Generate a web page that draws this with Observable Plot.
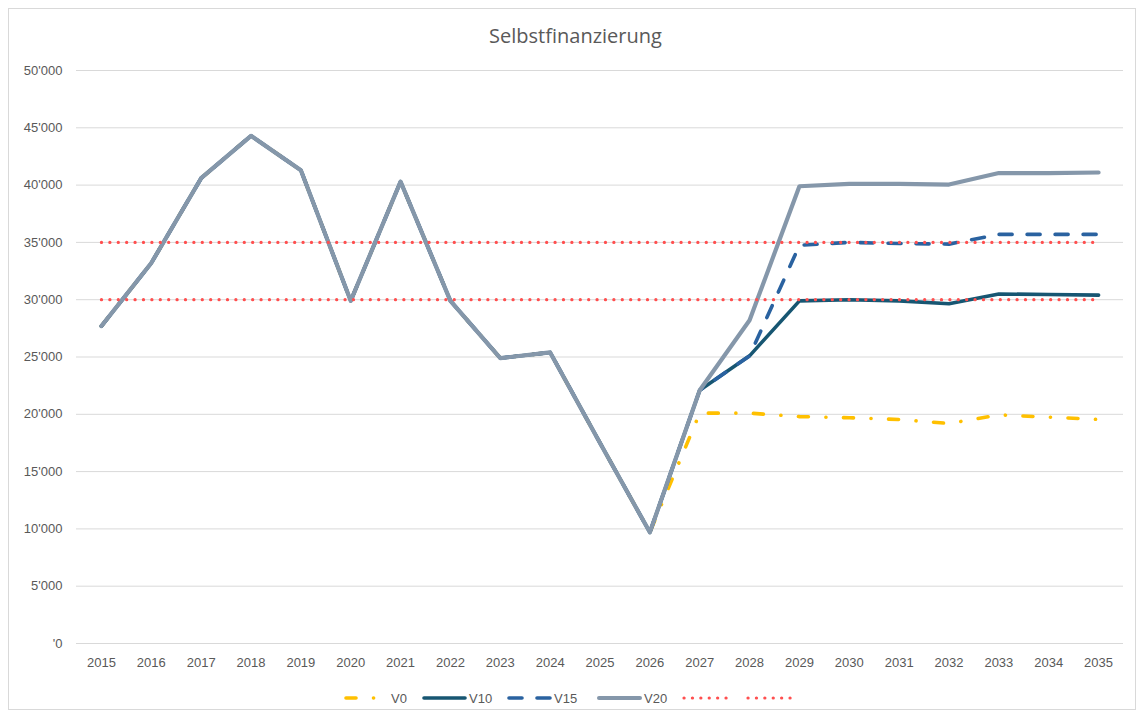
<!DOCTYPE html>
<html>
<head>
<meta charset="utf-8">
<script src="https://cdn.jsdelivr.net/npm/d3@7"></script>
<script src="https://cdn.jsdelivr.net/npm/@observablehq/plot@0.6"></script>
<style>
  body { margin: 0; background: #fff; font-family: "Liberation Sans", Arial, sans-serif; }
  #wrap { position: relative; width: 1141px; height: 718px; overflow: hidden; }
  #frame { position: absolute; left: 8px; top: 8px; width: 1128px; height: 702px; border: 1px solid #D9D9D9; box-sizing: border-box; }
  #title { position: absolute; left: 0; top: 22px; width: 1151px; text-align: center; font-family: "Open Sans", "Noto Sans", sans-serif; font-size: 20px; color: #595959; }
  #chart { position: absolute; left: 0; top: 50px; }
  #legend { position: absolute; top: 688px; left: 0; width: 1141px; height: 20px; }
  .item { position: absolute; top: 0; height: 20px; display: flex; align-items: center; font-size: 13px; color: #595959; }
  .item svg { display: block; }
</style>
</head>
<body>
<div id="wrap">
  <div id="frame"></div>
  <div id="title">Selbstfinanzierung</div>
  <div id="chart"></div>
  <div id="legend"></div>
</div>
<script>
const years = [2015,2016,2017,2018,2019,2020,2021,2022,2023,2024,2025,2026,2027,2028,2029,2030,2031,2032,2033,2034,2035];
const history = [27700,33200,40600,44300,41300,29900,40300,29900,24900,25400,17500,9700];
const V0  = [...history, 20100,20100,19800,19700,19550,19200,19950,19750,19550];
const V10 = [...history, 22100,25100,29900,30000,29900,29650,30500,30450,30400];
const V15 = [...history, 22100,25100,34750,35000,34900,34850,35700,35700,35700];
const V20 = [...history, 22100,28200,39900,40100,40100,40050,41050,41050,41100];
const refLow  = years.map(() => 30000);
const refHigh = years.map(() => 35000);
const yTicks = [0,5000,10000,15000,20000,25000,30000,35000,40000,45000,50000];

const colors = {V0:"#FFC000", V10:"#175672", V15:"#2A62A0", V20:"#8597AA", ref:"#FF4F4F"};

function rows(arr, name) { return years.map((y, i) => ({year: y, value: arr[i], series: name})); }

const fmt = d => d === 0 ? "'0" : d3.format(",")(d).replace(/,/g, "'");

const plot = Plot.plot({
  width: 1141,
  height: 630,
  marginLeft: 76,
  marginRight: 18,
  marginTop: 20,
  marginBottom: 37,
  style: { fontFamily: "'Liberation Sans', Arial, sans-serif", fontSize: "13px", color: "#595959", background: "transparent" },
  x: { type: "point", domain: years, padding: 0.5, round: false, label: null },
  y: { domain: [0, 50000], label: null },
  marks: [
    Plot.gridY(yTicks, { stroke: "#D9D9D9", strokeOpacity: 1, strokeWidth: 1 }),
    Plot.axisX({ tickSize: 0, tickPadding: 14, fill: "#595959", tickFormat: d => String(d) }),
    Plot.axisY(yTicks, { tickSize: 0, tickPadding: 14, tickFormat: fmt, fill: "#595959" }),
    Plot.line(rows(V0, "V0"), { x: "year", y: "value", stroke: colors.V0, strokeWidth: 3.6, strokeDasharray: "10,17.5,0.1,17.5", strokeLinecap: "round", strokeLinejoin: "round" }),
    Plot.line(rows(V10, "V10"), { x: "year", y: "value", stroke: colors.V10, strokeWidth: 3.6, strokeLinecap: "round", strokeLinejoin: "round" }),
    Plot.line(rows(V15, "V15"), { x: "year", y: "value", stroke: colors.V15, strokeWidth: 3.6, strokeDasharray: "13,15", strokeLinecap: "round", strokeLinejoin: "round" }),
    Plot.line(rows(V20, "V20"), { x: "year", y: "value", stroke: colors.V20, strokeWidth: 4.2, strokeLinecap: "round", strokeLinejoin: "round" }),
    Plot.line(rows(refLow, "refLow"), { x: "year", y: "value", stroke: colors.ref, strokeWidth: 3.2, strokeDasharray: "0.1,8.3", strokeLinecap: "round" }),
    Plot.line(rows(refHigh, "refHigh"), { x: "year", y: "value", stroke: colors.ref, strokeWidth: 3.2, strokeDasharray: "0.1,8.3", strokeLinecap: "round" })
  ]
});
document.getElementById("chart").appendChild(plot);

// Legend
const legendItems = [
  { name: "V0",  left: 343, color: colors.V0,  dash: "10,17.5,0.1,17.5", width: 3.6 },
  { name: "V10", left: 421, color: colors.V10, dash: null, width: 3.6 },
  { name: "V15", left: 506, color: colors.V15, dash: "13,15", width: 3.6 },
  { name: "V20", left: 596, color: colors.V20, dash: null, width: 4 },
  { name: "",    left: 681, color: colors.ref, dash: "0.1,8.3", width: 3.2 },
  { name: "",    left: 745, color: colors.ref, dash: "0.1,8.3", width: 3.2 }
];
const legend = document.getElementById("legend");
legendItems.forEach(it => {
  const div = document.createElement("div");
  div.className = "item";
  div.style.left = it.left + "px";
  const ns = "http://www.w3.org/2000/svg";
  const svg = document.createElementNS(ns, "svg");
  svg.setAttribute("width", 48); svg.setAttribute("height", 20);
  const ln = document.createElementNS(ns, "line");
  ln.setAttribute("x1", 3); ln.setAttribute("x2", it.name ? 44 : 46);
  ln.setAttribute("y1", 10); ln.setAttribute("y2", 10);
  ln.setAttribute("stroke", it.color);
  ln.setAttribute("stroke-width", it.width);
  ln.setAttribute("stroke-linecap", "round");
  if (it.dash) ln.setAttribute("stroke-dasharray", it.dash);
  svg.appendChild(ln);
  div.appendChild(svg);
  if (it.name) {
    const sp = document.createElement("span");
    sp.textContent = it.name;
    div.appendChild(sp);
  }
  legend.appendChild(div);
});
</script>
</body>
</html>
